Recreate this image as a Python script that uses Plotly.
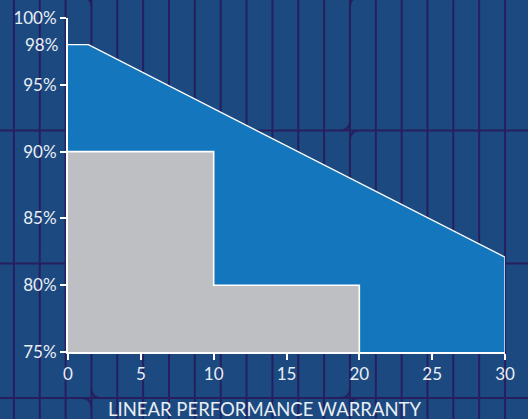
import plotly.graph_objects as go

# ---- data ----
blue_years = [0, 0, 1.4, 30, 30]
blue_perf = [75, 98, 98, 82.1, 75]
gray_years = [0, 0, 10, 10, 20, 20]
gray_perf = [75, 90, 90, 80, 80, 75]
x_ticks = [0, 5, 10, 15, 20, 25, 30]
y_ticks = [75, 80, 85, 90, 95, 100]
y_tick_text = ["75%", "80%", "85%", "90%", "95%", "100%"]
extra_label_value = 98
extra_label_text = "98%"
title_text = "LINEAR PERFORMANCE WARRANTY"

W, H = 528, 419
L, R, T, B = 68, 23, 18, 67
PW, PH = W - L - R, H - T - B

BG = "#1c4a80"
GRIDLINE = "#261f5f"
BLUE = "#1476bd"
GRAY = "#bebfc2"
TXT = "#e9eef5"
FONT = "Lato"


def px(x):
    return (x - L) / PW


def py(y):
    return (H - B - y) / PH


fig = go.Figure()

# filled regions
fig.add_trace(go.Scatter(x=blue_years, y=blue_perf, fill="toself", fillcolor=BLUE,
                         mode="lines", line=dict(width=0), hoverinfo="skip", showlegend=False))
fig.add_trace(go.Scatter(x=gray_years, y=gray_perf, fill="toself", fillcolor=GRAY,
                         mode="lines", line=dict(width=0), hoverinfo="skip", showlegend=False))
# white outlines
fig.add_trace(go.Scatter(x=blue_years[1:], y=blue_perf[1:], mode="lines",
                         line=dict(color="white", width=1.3), hoverinfo="skip", showlegend=False))
fig.add_trace(go.Scatter(x=gray_years[1:], y=gray_perf[1:], mode="lines",
                         line=dict(color="white", width=1.6), hoverinfo="skip", showlegend=False))

# ---- decorative solar-cell background pattern ----
parts = []
vx0, vdx = 13.9, 25.85
for k in range(20):
    xv = vx0 + vdx * k
    parts.append(f"M{px(xv):.5f},{py(-5):.5f}L{px(xv):.5f},{py(H + 5):.5f}")
hy = [-3, 130.5, 263.5, 398]
for yv in hy[1:]:
    parts.append(f"M{px(-5):.5f},{py(yv):.5f}L{px(W + 5):.5f},{py(yv):.5f}")
r = 10
for cx in [91.4, 350]:
    for cy in hy:
        if abs(cx - 91.4) < 1:
            # upper-right and lower-left curves
            parts.append(f"M{px(cx):.5f},{py(cy - r):.5f}Q{px(cx):.5f},{py(cy):.5f} {px(cx + r):.5f},{py(cy):.5f}")
            parts.append(f"M{px(cx - r):.5f},{py(cy):.5f}Q{px(cx):.5f},{py(cy):.5f} {px(cx):.5f},{py(cy + r):.5f}")
        else:
            # upper-left and lower-right curves
            parts.append(f"M{px(cx):.5f},{py(cy - r):.5f}Q{px(cx):.5f},{py(cy):.5f} {px(cx - r):.5f},{py(cy):.5f}")
            parts.append(f"M{px(cx):.5f},{py(cy + r):.5f}Q{px(cx):.5f},{py(cy):.5f} {px(cx + r):.5f},{py(cy):.5f}")

fig.add_shape(type="path", xref="paper", yref="paper", path="".join(parts),
              line=dict(color=GRIDLINE, width=2), layer="below")

fig.add_annotation(x=0, xref="paper", y=extra_label_value, yref="y", text=extra_label_text,
                   showarrow=False, xanchor="right", xshift=-8, yanchor="middle",
                   font=dict(family=FONT, size=17, color=TXT))
fig.add_annotation(x=px(264.5), xref="paper", y=py(409), yref="paper", text=title_text,
                   showarrow=False, xanchor="center", yanchor="middle",
                   font=dict(family=FONT, size=18.5, color=TXT))

axis_common = dict(showgrid=False, zeroline=False, showline=True, linecolor="white", linewidth=2,
                   ticks="outside", ticklen=6, tickwidth=2, tickcolor="white", automargin=False,
                   tickfont=dict(family=FONT, size=17, color=TXT))
fig.update_xaxes(range=[0, 30], tickvals=x_ticks, **axis_common)
fig.update_yaxes(range=[75, 100], tickvals=y_ticks, ticktext=y_tick_text, **axis_common)

fig.update_layout(width=W, height=H, margin=dict(l=L, r=R, t=T, b=B, autoexpand=False),
                  paper_bgcolor=BG, plot_bgcolor="rgba(0,0,0,0)", showlegend=False)

fig.write_html("out.html", config={"displayModeBar": False, "staticPlot": True},
               post_script="document.body.style.margin='0';document.body.style.padding='0';"
                           "document.documentElement.style.background='" + BG + "';")
